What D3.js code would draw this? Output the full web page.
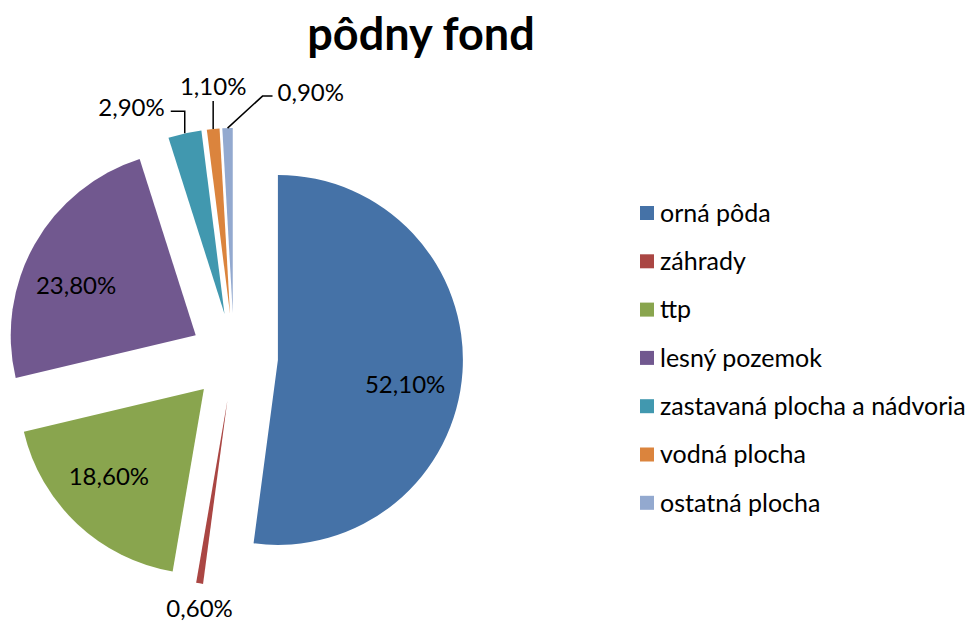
<!DOCTYPE html>
<html>
<head>
<meta charset="utf-8">
<script src="https://cdn.jsdelivr.net/npm/d3@7"></script>
<style>
  body { margin: 0; background: #fff; }
  text { font-family: Lato, "Open Sans", sans-serif; fill: #000; }
</style>
</head>
<body>
<div id="chart"></div>
<script>
// data
const categories = ["orná pôda", "záhrady", "ttp", "lesný pozemok",
  "zastavaná plocha a nádvoria", "vodná plocha", "ostatná plocha"];
const values = [52.1, 0.6, 18.6, 23.8, 2.9, 1.1, 0.9];
const colors = ["#4572A7", "#AA4643", "#89A54E", "#71588F", "#4198AF", "#DB843D", "#93A9CF"];
const title = "pôdny fond";

const width = 968, height = 621;
const cx = 234, cy = 357, radius = 185, explode = 44;

// inside label angle nudge (degrees), like excel's best fit
const nudge = {0: 7, 2: 4, 3: -7};

// label placement for thin slices (leader elbow relative to arc edge)
const outside = {
  1: {elbow: [0, 0], end: [0, 0], anchor: "middle", dy: 25},
  4: {elbow: [0, -22], end: [-14, -22], anchor: "end", dy: -4},
  5: {elbow: [0, -28], end: [0, -28], anchor: "middle", dy: -14},
  6: {elbow: [35, -32], end: [45, -32], anchor: "start", dy: -4}
};

const svg = d3.select("#chart").append("svg")
    .attr("width", width)
    .attr("height", height);

svg.append("text")
    .attr("x", 421)
    .attr("y", 50)
    .attr("text-anchor", "middle")
    .style("font-size", "45px")
    .style("font-weight", "bold")
    .text(title);

const pie = d3.pie().sort(null).value(d => d);
const arcs = pie(values);

const arc = d3.arc().innerRadius(0).outerRadius(radius);

const fmt = v => v.toFixed(2).replace(".", ",") + "%";

const g = svg.append("g").attr("transform", `translate(${cx},${cy})`);

function dir(d, extra) {
  const a = (d.startAngle + d.endAngle) / 2 + (extra || 0) * Math.PI / 180;
  return [Math.sin(a), -Math.cos(a)];
}

const slices = g.selectAll("g.slice")
  .data(arcs)
  .join("g")
    .attr("class", "slice")
    .attr("transform", d => {
      const [x, y] = dir(d);
      return `translate(${x * explode},${y * explode})`;
    });

slices.append("path")
    .attr("d", arc)
    .attr("fill", (d, i) => colors[i]);

// labels
slices.each(function(d, i) {
  const sel = d3.select(this);
  const o = outside[i];
  if (!o) {
    const [lx, ly] = dir(d, nudge[i]);
    const r = radius * 0.7;
    sel.append("text")
        .attr("x", lx * r)
        .attr("y", ly * r)
        .attr("dy", "0.35em")
        .attr("text-anchor", "middle")
        .style("font-size", "24px")
        .text(fmt(d.value));
  } else {
    const [ux, uy] = dir(d);
    const ax = ux * radius, ay = uy * radius;
    const pts = [[ax, ay], [ax + o.elbow[0], ay + o.elbow[1]], [ax + o.end[0], ay + o.end[1]]];
    if (i !== 1) {
      sel.append("path")
          .attr("d", d3.line()(pts))
          .attr("fill", "none")
          .attr("stroke", "#000")
          .attr("stroke-width", 1.5);
    }
    const gap = o.anchor === "end" ? -6 : o.anchor === "start" ? 5 : 0;
    sel.append("text")
        .attr("x", pts[2][0] + gap)
        .attr("y", pts[2][1] + o.dy)
        .attr("dy", "0.35em")
        .attr("text-anchor", o.anchor)
        .style("font-size", "24px")
        .text(fmt(d.value));
  }
});

// legend
const legend = svg.append("g").attr("transform", "translate(640,213)");
const item = legend.selectAll("g")
  .data(categories)
  .join("g")
    .attr("transform", (d, i) => `translate(0,${i * 48.3})`);

item.append("rect")
    .attr("x", 0).attr("y", -7)
    .attr("width", 14).attr("height", 14)
    .attr("fill", (d, i) => colors[i]);

item.append("text")
    .attr("x", 20)
    .attr("dy", "0.35em")
    .style("font-size", "25px")
    .text(d => d);
</script>
</body>
</html>
